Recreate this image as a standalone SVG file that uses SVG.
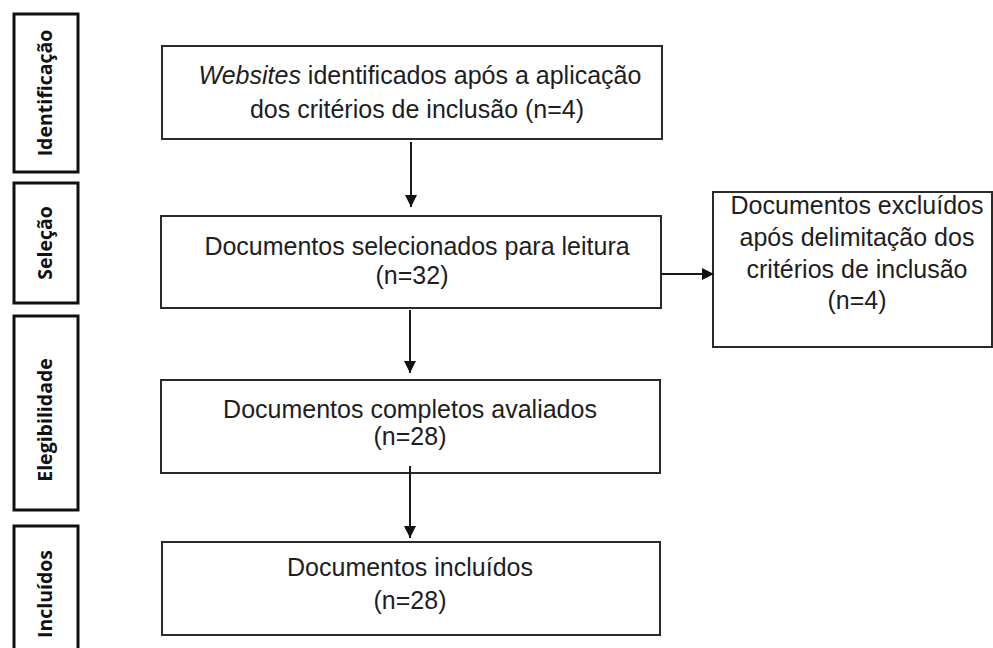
<svg xmlns="http://www.w3.org/2000/svg" width="993" height="648" viewBox="0 0 993 648">
  <style>
    .phase rect { fill: #fff; stroke: #111; stroke-width: 3; }
    .phase text { font-family: "Open Sans", "Noto Sans", sans-serif; font-weight: bold; font-size: 19.5px; fill: #111; text-anchor: middle; }
    .node rect { fill: #fff; stroke: #2a2a2a; stroke-width: 2; }
    .node text { font-family: "Liberation Sans", Arial, sans-serif; font-size: 25px; fill: #1e1e1e; text-anchor: middle; }
    .conn line { stroke: #1a1a1a; stroke-width: 2; }
  </style>
  <defs>
    <marker id="ah" viewBox="0 0 12 12" refX="12" refY="6" markerWidth="12" markerHeight="12" markerUnits="userSpaceOnUse" orient="auto">
      <path d="M0,0 L12,6 L0,12 Z" fill="#111"/>
    </marker>
  </defs>
  <rect width="993" height="648" fill="#fff"/>

  <g class="phase" id="phase-identificacao">
    <rect x="14" y="14" width="64" height="158"/>
    <text transform="translate(52,93) rotate(-90)">Identificação</text>
  </g>
  <g class="phase" id="phase-selecao">
    <rect x="14" y="183" width="64" height="120"/>
    <text transform="translate(52,243) rotate(-90)">Seleção</text>
  </g>
  <g class="phase" id="phase-elegibilidade">
    <rect x="14" y="316" width="64" height="194"/>
    <text transform="translate(52,420) rotate(-90)">Elegibilidade</text>
  </g>
  <g class="phase" id="phase-incluidos">
    <rect x="14" y="526" width="64" height="140"/>
    <text transform="translate(52,594) rotate(-90)">Incluídos</text>
  </g>

  <g class="node" id="n-websites">
    <rect x="162" y="46" width="500" height="93"/>
    <text x="420" y="84"><tspan font-style="italic">Websites</tspan> identificados após a aplicação</text>
    <text x="417" y="118">dos critérios de inclusão (n=4)</text>
  </g>
  <g class="node" id="n-selecionados">
    <rect x="161" y="216" width="500" height="92"/>
    <text x="417" y="255">Documentos selecionados para leitura</text>
    <text x="412" y="284">(n=32)</text>
  </g>
  <g class="node" id="n-excluidos">
    <rect x="713" y="192" width="279" height="155"/>
    <text x="857" y="214">Documentos excluídos</text>
    <text x="857" y="246">após delimitação dos</text>
    <text x="857" y="278">critérios de inclusão</text>
    <text x="857" y="309">(n=4)</text>
  </g>
  <g class="node" id="n-completos">
    <rect x="161" y="380" width="499" height="93"/>
    <text x="410" y="418">Documentos completos avaliados</text>
    <text x="410" y="445">(n=28)</text>
  </g>
  <g class="node" id="n-incluidos">
    <rect x="162" y="542" width="498" height="93"/>
    <text x="410" y="576">Documentos incluídos</text>
    <text x="410" y="609">(n=28)</text>
  </g>

  <g class="conn" id="connectors">
    <line x1="411" y1="142" x2="411" y2="207" marker-end="url(#ah)"/>
    <line x1="410" y1="310" x2="410" y2="373" marker-end="url(#ah)"/>
    <line x1="410" y1="466" x2="410" y2="538" marker-end="url(#ah)"/>
    <line x1="661" y1="274" x2="714" y2="274" marker-end="url(#ah)"/>
  </g>
</svg>
